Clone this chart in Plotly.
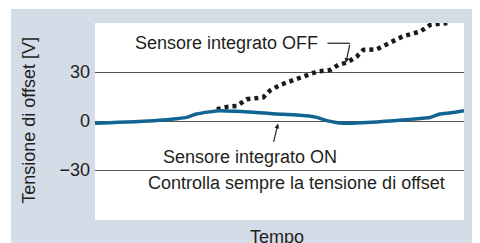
import plotly.graph_objects as go

# Data
tempo_on = [0, 4, 8.6, 13, 18.5, 22, 24.8, 27.5, 31, 33.9, 38.4, 42.9, 46, 49.2, 52,
            55.6, 58, 60.1, 62.8, 65, 67.3, 71, 76.3, 81, 85.4, 88, 90.8, 93.5, 96.5, 100]
offset_on = [-1.4, -1.0, -0.6, -0.2, 0.6, 1.4, 2.2, 4.3, 5.6, 6.3, 5.9, 5.3, 4.9, 4.3, 4.0,
             3.5, 3.0, 2.2, 0.2, -0.8, -1.4, -1.2, -0.6, 0.2, 1.0, 1.6, 2.2, 4.3, 5.0, 6.3]

tempo_off = [33.0, 36.1, 38.4, 41.1, 45.6, 47.4, 50.1, 53.7, 56.5, 60.1, 63.7, 65.9, 68.2,
             70.9, 72.7, 76.3, 79.9, 83.6, 88.1, 90.8, 94.4, 95.5]
offset_off = [7.2, 8.8, 9.2, 13.3, 14.5, 18.6, 22.0, 25.1, 27.6, 30.2, 31.2, 34.3, 35.7,
              39.4, 43.5, 43.9, 47.9, 52.0, 54.7, 58.8, 59.8, 59.8]

y_ticks = [-30, 0, 30]
y_tick_labels = ["\u221230", "0", "30"]

TXT = "#231f20"
PANEL = "#d4dce8"
FONT = "Liberation Sans, Arial, sans-serif"

fig = go.Figure()
fig.add_trace(go.Scatter(x=tempo_off, y=offset_off, mode="lines",
                         line=dict(color="#1a1a1a", width=4.5, dash="4px,4px"),
                         hoverinfo="skip", showlegend=False))
fig.add_trace(go.Scatter(x=tempo_on, y=offset_on, mode="lines",
                         line=dict(color="#126593", width=3.5, shape="spline", smoothing=0.6),
                         hoverinfo="skip", showlegend=False))

annotations = [
    dict(text="Sensore integrato OFF", x=61.0, y=47.6, xref="x", yref="y",
         xanchor="right", yanchor="middle", showarrow=False),
    dict(text="", x=68.0, y=35.6, xref="x", yref="y", ax=69.1, ay=47.6,
         axref="x", ayref="y", showarrow=True, arrowhead=2, arrowsize=0.8,
         arrowwidth=1.2, arrowcolor=TXT),
    dict(text="", x=49.6, y=-1.6, xref="x", yref="y", ax=48.3, ay=-13.7,
         axref="x", ayref="y", showarrow=True, arrowhead=2, arrowsize=0.8,
         arrowwidth=1.2, arrowcolor=TXT),
    dict(text="Sensore integrato ON", x=42.0, y=-21.9, xref="x", yref="y",
         xanchor="center", yanchor="middle", showarrow=False),
    dict(text="Controlla sempre la tensione di offset", x=54.7, y=-37.8,
         xref="x", yref="y", xanchor="center", yanchor="middle", showarrow=False),
    dict(text="Tensione di offset [V]", x=-0.179, y=0.508, xref="paper", yref="paper",
         textangle=-90, xanchor="center", yanchor="middle", showarrow=False),
    dict(text="Tempo", x=0.493, y=-0.086, xref="paper", yref="paper",
         xanchor="center", yanchor="middle", showarrow=False),
]

shapes = [
    # white edges outside the panel
    dict(type="rect", xref="paper", yref="paper", x0=-0.4, x1=1.2, y0=1.0711, y1=1.3,
         fillcolor="white", line=dict(width=0), layer="below"),
    dict(type="rect", xref="paper", yref="paper", x0=-0.4, x1=-0.2276, y0=-0.3, y1=1.3,
         fillcolor="white", line=dict(width=0), layer="below"),
    # leader line for OFF label
    dict(type="line", xref="x", yref="y", x0=63.0, x1=69.1, y0=47.6, y1=47.6,
         line=dict(color=TXT, width=1.2)),
]

fig.update_layout(
    width=472, height=235,
    margin=dict(l=87, r=16, t=15, b=23),
    paper_bgcolor=PANEL, plot_bgcolor="white",
    font=dict(family=FONT, size=18, color=TXT),
    annotations=annotations, shapes=shapes,
    xaxis=dict(range=[0, 100], showticklabels=False, showgrid=False, zeroline=False,
               ticks="", showline=False),
    yaxis=dict(range=[-60.6, 60.0], tickvals=y_ticks, ticktext=y_tick_labels,
               showgrid=True, gridcolor="#555555", gridwidth=1, zeroline=False,
               ticks="", showline=False, ticklabelstandoff=4,
               tickfont=dict(size=18, color=TXT)),
)

fig.write_html("out.html")
